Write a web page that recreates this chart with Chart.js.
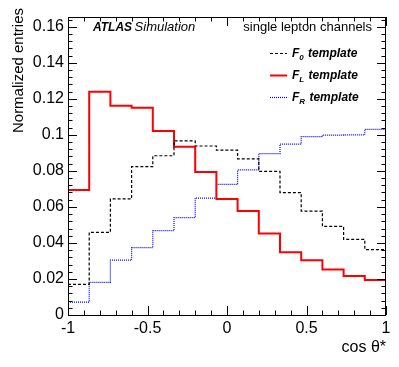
<!DOCTYPE html>
<html>
<head>
<meta charset="utf-8">
<script src="https://cdn.jsdelivr.net/npm/chart.js@4/dist/chart.umd.min.js"></script>
<style>
  body { margin: 0; background: #fff; }
  canvas { display: block; }
</style>
</head>
<body>
<canvas id="myChart" width="399" height="367"></canvas>
<script>
// cos theta* histograms, 15 bins from -1 to 1
const xMin = -1
const xMax = 1
const yMax = 0.1654

const f0Values = [0.0170, 0.0459, 0.0644, 0.0823, 0.0884, 0.0966, 0.0938, 0.0915, 0.0867, 0.0797, 0.0679, 0.0577, 0.0492, 0.0420, 0.0363]
const fLValues = [0.0694, 0.1239, 0.1162, 0.1151, 0.1021, 0.0934, 0.0794, 0.0644, 0.0577, 0.0453, 0.0348, 0.0304, 0.0253, 0.0216, 0.0194]
const fRValues = [0.0072, 0.0181, 0.0305, 0.0374, 0.0468, 0.0540, 0.0649, 0.0725, 0.0806, 0.0896, 0.0948, 0.0990, 0.0998, 0.1000, 0.1030]

const xTickLabels = ['-1', '-0.5', '0', '0.5', '1']
const legendNames = ['0', 'L', 'R']

const font = 'Liberation Sans, Arial, Helvetica, sans-serif'

// bin contents -> step points (left edges + closing point at xMax)
function toSteps(values) {
  const w = (xMax - xMin) / values.length
  const pts = values.map((v, i) => ({ x: xMin + i * w, y: v }))
  pts.push({ x: xMax, y: values[values.length - 1] })
  return pts
}

const frameTicks = {
  id: 'frameTicks',
  afterDraw(chart) {
    const { ctx, chartArea: a, scales: { x, y } } = chart
    ctx.save()
    ctx.strokeStyle = '#000'
    ctx.lineWidth = 1
    ctx.setLineDash([])
    ctx.strokeRect(a.left + 0.5, a.top + 0.5, a.right - a.left - 1, a.bottom - a.top)
    ctx.beginPath()
    // y ticks every 0.004, major every 0.02
    for (let i = 0; i * 0.004 <= yMax + 1e-9; i++) {
      const py = Math.round(y.getPixelForValue(i * 0.004)) + 0.5
      const len = i % 5 === 0 ? 9 : 4.5
      ctx.moveTo(a.left, py); ctx.lineTo(a.left + len, py)
      ctx.moveTo(a.right, py); ctx.lineTo(a.right - len, py)
    }
    // x ticks every 0.1, major every 0.5
    for (let i = 0; i <= 20; i++) {
      const px = Math.round(x.getPixelForValue(xMin + i * 0.1)) + 0.5
      const len = i % 5 === 0 ? 9 : 4.5
      ctx.moveTo(px, a.bottom); ctx.lineTo(px, a.bottom - len)
      ctx.moveTo(px, a.top); ctx.lineTo(px, a.top + len)
    }
    ctx.stroke()

    ctx.fillStyle = '#000'
    ctx.textBaseline = 'middle'

    // y axis title, right aligned at the top
    ctx.save()
    ctx.translate(18.5, 8)
    ctx.rotate(-Math.PI / 2)
    ctx.textAlign = 'right'
    ctx.font = '15px ' + font
    ctx.fillText('Normalized entries', 0, 0)
    ctx.restore()

    ctx.textAlign = 'left'
    ctx.font = 'italic bold 12px ' + font
    ctx.fillText('ATLAS', 93, 27.5)
    const aw = ctx.measureText('ATLAS').width
    ctx.font = 'italic 13px ' + font
    ctx.fillText('Simulation', 93 + aw + 2.5, 27.5)
    ctx.font = '13px ' + font
    ctx.textAlign = 'right'
    ctx.fillText('single lepton channels', 372, 27)

    // legend
    const rows = [53.5, 75.5, 97.5]
    chart.data.datasets.forEach((ds, i) => {
      const ly = rows[i]
      ctx.beginPath()
      ctx.strokeStyle = ds.borderColor
      ctx.lineWidth = ds.borderWidth
      ctx.setLineDash(ds.borderDash || [])
      ctx.moveTo(270, ly); ctx.lineTo(287, ly)
      ctx.stroke()
      ctx.setLineDash([])
      ctx.textAlign = 'left'
      ctx.font = 'italic bold 12px ' + font
      ctx.fillText('F', 292, ly)
      let tx = 292 + ctx.measureText('F').width
      ctx.font = 'italic bold 8px ' + font
      ctx.fillText(legendNames[i], tx, ly + 4)
      tx += ctx.measureText(legendNames[i]).width + 1
      ctx.font = 'italic bold 12px ' + font
      ctx.fillText(' template', tx, ly)
    })
    ctx.restore()
  }
}

new Chart(document.getElementById('myChart'), {
  type: 'line',
  data: {
    datasets: [
      { label: 'F0 template', data: toSteps(f0Values), stepped: 'before', borderColor: '#000000', borderWidth: 1.2, borderDash: [3, 2], fill: false },
      { label: 'FL template', data: toSteps(fLValues), stepped: 'before', borderColor: '#ff0000', borderWidth: 2, fill: false },
      { label: 'FR template', data: toSteps(fRValues), stepped: 'before', borderColor: '#0000ff', borderWidth: 1.2, borderDash: [1, 1], fill: false }
    ]
  },
  options: {
    responsive: false,
    animation: false,
    layout: { padding: { left: 0, top: 17, right: 13, bottom: 0 } },
    elements: { point: { radius: 0 }, line: { borderJoinStyle: 'miter', tension: 0 } },
    plugins: { legend: { display: false }, tooltip: { enabled: false } },
    scales: {
      x: {
        type: 'linear', min: xMin, max: xMax,
        grid: { display: false, drawTicks: false }, border: { display: false },
        ticks: {
          stepSize: 0.5, padding: 4, maxRotation: 0, color: '#000',
          font: { family: font, size: 16 },
          callback: (v, i) => xTickLabels[i]
        },
        title: { display: true, text: 'cos θ*', align: 'end', color: '#000', font: { family: font, size: 16 }, padding: { top: 0, bottom: 10 } },
        afterFit: s => { s.height = 52 }
      },
      y: {
        min: 0, max: yMax,
        grid: { display: false, drawTicks: false }, border: { display: false },
        ticks: {
          stepSize: 0.02, includeBounds: false, padding: 4, color: '#000',
          font: { family: font, size: 16 },
          callback: v => String(parseFloat(v.toFixed(3)))
        },
        afterFit: s => { s.width = 68 }
      }
    }
  },
  plugins: [frameTicks]
})
</script>
</body>
</html>
